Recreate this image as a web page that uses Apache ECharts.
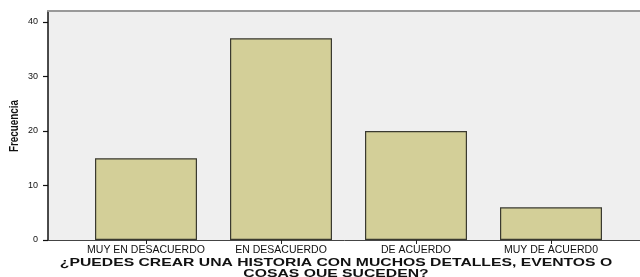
<!DOCTYPE html>
<html>
<head>
<meta charset="utf-8">
<script src="https://cdn.jsdelivr.net/npm/echarts@6/dist/echarts.min.js"></script>
<style>
  html, body { margin: 0; padding: 0; background: #fff; }
  #chart { width: 640px; height: 277px; }
</style>
</head>
<body>
<div id="chart"></div>
<script>
// answers to the survey question, frequency per answer
const categories = ['MUY EN DESACUERDO', 'EN DESACUERDO', 'DE ACUERDO', 'MUY DE ACUERD0'];
const frecuencia = [15, 37, 20, 6];
const yTicks = { min: 0, max: 42, interval: 10 };
const yName = 'Frecuencia';
const titleText = '¿PUEDES CREAR UNA HISTORIA CON MUCHOS DETALLES, EVENTOS O\nCOSAS QUE SUCEDEN?';

const font = 'Liberation Sans, Arial, sans-serif';

option = {
    animation: false,
    backgroundColor: '#ffffff',
    grid: [
        // frame: grey plot background, spans the whole width
        { left: 48, right: -2, top: 11, bottom: 37, show: true, backgroundColor: '#efefef', borderWidth: 0,
          outerBoundsMode: 'none', containLabel: false },
        // bars sit on an inner band, like the spss output
        { left: 78.5, right: 21.5, top: 11, bottom: 37, outerBoundsMode: 'none', containLabel: false }
    ],
    xAxis: [
        {
            gridIndex: 0, type: 'value', min: 0, max: 1, position: 'bottom',
            axisLine: { show: true, lineStyle: { color: '#444', width: 1 } },
            axisTick: { show: false }, axisLabel: { show: false }, splitLine: { show: false }
        },
        {
            gridIndex: 0, type: 'value', min: 0, max: 1, position: 'top',
            axisLine: { show: true, lineStyle: { color: '#999', width: 2 } },
            axisTick: { show: false }, axisLabel: { show: false }, splitLine: { show: false }
        },
        {
            gridIndex: 1, type: 'category', data: categories, boundaryGap: true,
            axisLine: { show: false },
            axisTick: { show: true, alignWithLabel: true, length: 4, lineStyle: { color: '#222' } },
            axisLabel: { color: '#111', fontFamily: font, fontSize: 10.5, margin: 5, interval: 0 }
        }
    ],
    yAxis: [
        {
            gridIndex: 0, type: 'value', min: yTicks.min, max: yTicks.max, interval: yTicks.interval,
            axisLine: { show: true, onZero: false, lineStyle: { color: '#111', width: 1.5 } },
            axisTick: { show: true, inside: false, length: 5, lineStyle: { color: '#111', width: 1.2 } },
            axisLabel: { color: '#111', fontFamily: font, fontSize: 9, margin: 10,
                showMaxLabel: false },
            splitLine: { show: false }
        },
        {
            gridIndex: 1, type: 'value', min: yTicks.min, max: yTicks.max, interval: yTicks.interval,
            show: false, splitLine: { show: false }
        }
    ],
    graphic: [
        {
            // axis title, condensed like the original
            type: 'text', x: 14, y: 126, rotation: Math.PI / 2, scaleX: 0.76,
            style: {
                text: yName, fill: '#111', font: 'bold 13px ' + font,
                align: 'center', verticalAlign: 'middle'
            }
        },
        {
            // chart title, stretched wide like the spss export
            type: 'text', x: 336, y: 268.5, scaleX: 1.43,
            style: {
                text: titleText, fill: '#111', font: 'bold 11px ' + font,
                align: 'center', verticalAlign: 'middle', lineHeight: 10.5
            }
        }
    ],
    series: [
        {
            type: 'bar', xAxisIndex: 2, yAxisIndex: 1,
            data: frecuencia,
            barWidth: 102,
            itemStyle: { color: '#d3cf98', borderColor: '#3a3a30', borderWidth: 1.2 }
        }
    ]
};

chart = echarts.init(document.getElementById('chart'));
chart.setOption(option);
</script>
</body>
</html>
